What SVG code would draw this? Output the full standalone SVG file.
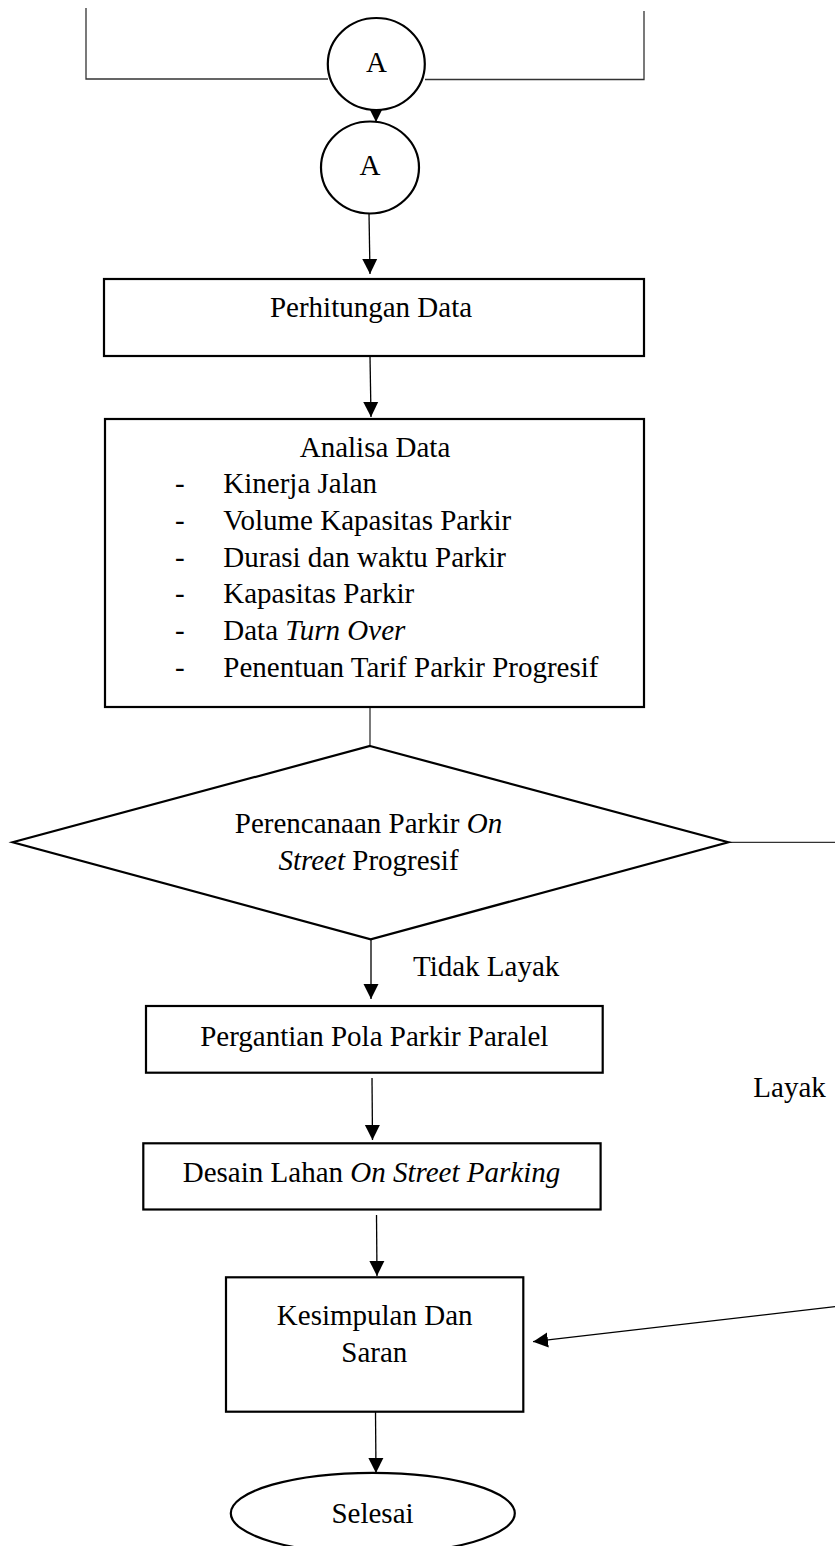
<svg xmlns="http://www.w3.org/2000/svg" width="835" height="1546" viewBox="0 0 835 1546">
<style>
  text { font-family: "Liberation Serif", "Times New Roman", serif; font-size: 29px; fill: #000; }
  .mid { text-anchor: middle; }
  .shape { fill: #fff; stroke: #000; stroke-width: 2.2; }
  .conn { fill: none; stroke: #000; stroke-width: 1.3; }
  .thin { fill: none; stroke: #333; stroke-width: 1.3; }
</style>
<defs>
  <marker id="arrow" markerUnits="userSpaceOnUse" markerWidth="16" markerHeight="16" viewBox="0 0 16 16" refX="15" refY="8" orient="auto">
    <path d="M0,0.5 L15,8 L0,15.5 Z" fill="#000"/>
  </marker>
</defs>

<g id="connectors">
  <polyline class="thin" points="86,8 86,79 328,79"/>
  <polyline class="thin" points="425,79.5 644,79.5 644,11"/>
  <line class="conn" x1="376" y1="110" x2="376" y2="122" marker-end="url(#arrow)"/>
  <line class="conn" x1="369" y1="213" x2="370" y2="274" marker-end="url(#arrow)"/>
  <line class="conn" x1="370" y1="356" x2="371" y2="417" marker-end="url(#arrow)"/>
  <line class="thin" x1="370" y1="707" x2="370" y2="746"/>
  <line class="thin" x1="729" y1="842.3" x2="835" y2="842.3"/>
  <line class="conn" x1="371" y1="939" x2="371" y2="999" marker-end="url(#arrow)"/>
  <line class="conn" x1="372" y1="1078" x2="372.5" y2="1140" marker-end="url(#arrow)"/>
  <line class="conn" x1="376.5" y1="1215" x2="377" y2="1276" marker-end="url(#arrow)"/>
  <line class="conn" x1="835" y1="1306.7" x2="533" y2="1341.7" marker-end="url(#arrow)"/>
  <line class="conn" x1="375.5" y1="1412" x2="376" y2="1473" marker-end="url(#arrow)"/>
</g>

<g id="connector-A-top">
  <ellipse class="shape" cx="376.3" cy="64" rx="48.5" ry="46"/>
  <text class="mid" x="376.5" y="72">A</text>
</g>

<g id="connector-A">
  <ellipse class="shape" cx="370" cy="167.5" rx="49" ry="46"/>
  <text class="mid" x="370" y="174.5">A</text>
</g>

<g id="perhitungan-data">
  <rect class="shape" x="104" y="279" width="540" height="77"/>
  <text class="mid" x="371" y="317">Perhitungan Data</text>
</g>

<g id="analisa-data">
  <rect class="shape" x="105" y="419" width="539" height="288"/>
  <text class="mid" x="375" y="456.7">Analisa Data</text>
  <text x="175" y="493.3">-</text><text x="223.3" y="493.3">Kinerja Jalan</text>
  <text x="175" y="530">-</text><text x="223.3" y="530">Volume Kapasitas Parkir</text>
  <text x="175" y="566.7">-</text><text x="223.3" y="566.7">Durasi dan waktu Parkir</text>
  <text x="175" y="603.3">-</text><text x="223.3" y="603.3">Kapasitas Parkir</text>
  <text x="175" y="640">-</text><text x="223.3" y="640">Data <tspan font-style="italic">Turn Over</tspan></text>
  <text x="175" y="676.7">-</text><text x="223.3" y="676.7">Penentuan Tarif Parkir Progresif</text>
</g>

<g id="perencanaan">
  <polygon class="shape" points="370,746 728.3,842.3 370.7,939.3 12.7,842.3"/>
  <text class="mid" x="368.5" y="832.7">Perencanaan Parkir <tspan font-style="italic">On</tspan></text>
  <text class="mid" x="368.5" y="870"><tspan font-style="italic">Street</tspan> Progresif</text>
</g>

<g id="label-tidak-layak">
  <text x="413" y="976">Tidak Layak</text>
</g>

<g id="label-layak">
  <text x="753.3" y="1096.7">Layak</text>
</g>

<g id="pergantian">
  <rect class="shape" x="146" y="1006" width="456.7" height="66.7"/>
  <text class="mid" x="374.3" y="1045.7">Pergantian Pola Parkir Paralel</text>
</g>

<g id="desain">
  <rect class="shape" x="143.3" y="1143.3" width="457.3" height="66.2"/>
  <text class="mid" x="371.5" y="1181.7">Desain Lahan <tspan font-style="italic">On Street Parking</tspan></text>
</g>

<g id="kesimpulan">
  <rect class="shape" x="226" y="1277.3" width="297.3" height="134.4"/>
  <text class="mid" x="374.7" y="1325">Kesimpulan Dan</text>
  <text class="mid" x="374.3" y="1361.7">Saran</text>
</g>

<g id="selesai">
  <ellipse class="shape" cx="372.8" cy="1513.3" rx="142" ry="40.5"/>
  <text class="mid" x="372.5" y="1523.3">Selesai</text>
</g>
</svg>
